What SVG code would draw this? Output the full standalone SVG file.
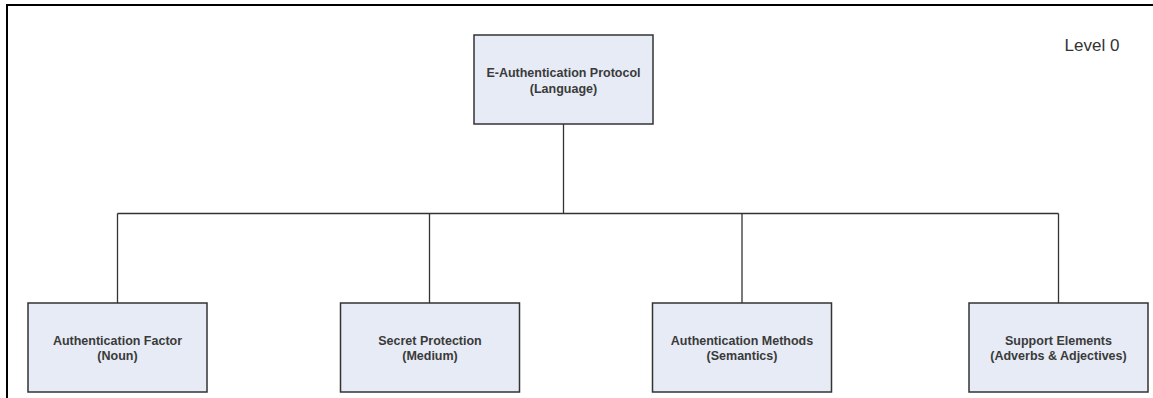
<svg xmlns="http://www.w3.org/2000/svg" width="1153" height="398" viewBox="0 0 1153 398">
<style>
.box{fill:#E6EBF5;stroke:#333;stroke-width:1.5}
.t{font-family:"Liberation Sans",Arial,sans-serif;font-size:12.5px;font-weight:bold;fill:#3a3a3a;text-anchor:middle}
.lvl{font-family:"Liberation Sans",Arial,sans-serif;font-size:17px;fill:#333;text-anchor:middle}
.c{stroke:#333;stroke-width:1.3;fill:none}
</style>
<rect width="1153" height="398" fill="#fff"/>
<path d="M7,398 V5 H1153" fill="none" stroke="#000" stroke-width="2"/>
<text class="lvl" x="1092" y="51">Level 0</text>
<g id="connectors">
<path class="c" d="M563.5,124 V213.5"/>
<path class="c" d="M117.5,213.5 H1058.5"/>
<path class="c" d="M117.5,213.5 V303"/>
<path class="c" d="M429.5,213.5 V303"/>
<path class="c" d="M742,213.5 V303"/>
<path class="c" d="M1058.5,213.5 V303"/>
</g>
<g id="root">
<rect class="box" x="474" y="35" width="179" height="89"/>
<text class="t" x="563.5" y="77">E-Authentication Protocol</text>
<text class="t" x="563.5" y="92.5">(Language)</text>
</g>
<g id="factor">
<rect class="box" x="28" y="303" width="179" height="89"/>
<text class="t" x="117.5" y="345">Authentication Factor</text>
<text class="t" x="117.5" y="360">(Noun)</text>
</g>
<g id="secret">
<rect class="box" x="340.5" y="303" width="179" height="89"/>
<text class="t" x="430" y="345">Secret Protection</text>
<text class="t" x="430" y="360">(Medium)</text>
</g>
<g id="methods">
<rect class="box" x="652.5" y="303" width="179" height="89"/>
<text class="t" x="742" y="345">Authentication Methods</text>
<text class="t" x="742" y="360">(Semantics)</text>
</g>
<g id="support">
<rect class="box" x="969" y="303" width="179" height="89"/>
<text class="t" x="1058.5" y="345">Support Elements</text>
<text class="t" x="1058.5" y="360">(Adverbs &amp; Adjectives)</text>
</g>
</svg>
